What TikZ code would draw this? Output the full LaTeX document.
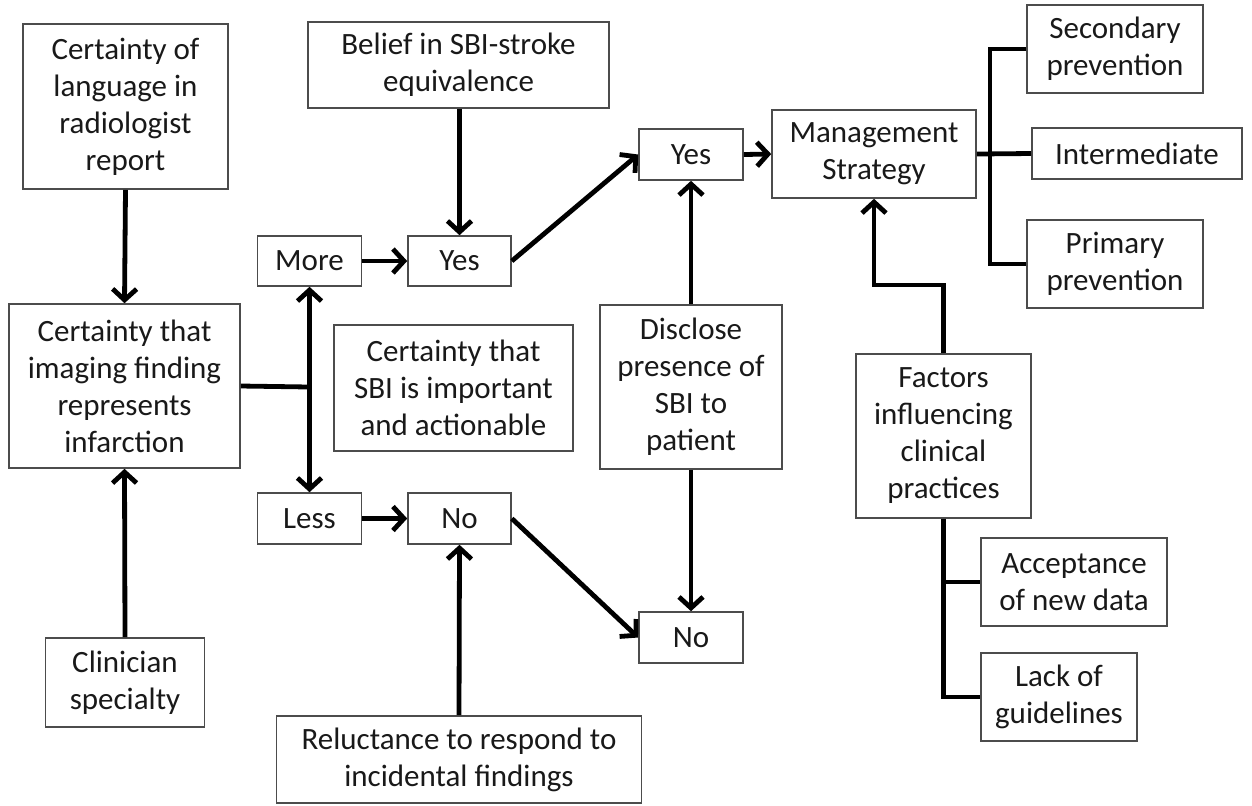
\documentclass[tikz,border=0pt]{standalone}
\usepackage{fontspec}
\setmainfont{Carlito}
\usetikzlibrary{arrows.meta}
\begin{document}
\begin{tikzpicture}[x=0.5pt,y=-0.5pt,
  bx/.style={draw=black!70, line width=0.8pt, align=center, inner sep=0pt,
    font={\fontsize{15.5}{18.5}\selectfont}, text=black!90},
  ln/.style={line width=2.4pt, line join=miter},
  arr/.style={ln, -{Straight Barb[length=5.5pt,width=12pt,line width=2.4pt]}},
  darr/.style={ln, {Straight Barb[length=5.5pt,width=12pt,line width=2.4pt]}-{Straight Barb[length=5.5pt,width=12pt,line width=2.4pt]}}]
\useasboundingbox (0,0) rectangle (1252,805);
\node[bx, minimum width=102.5pt, minimum height=82.5pt] (A) at (125.5,106.5) {Certainty of\\language in\\radiologist\\report};
\node[bx, minimum width=150.5pt, minimum height=43pt] (B) at (458.5,65) {Belief in SBI-stroke\\equivalence};
\node[bx, minimum width=52pt, minimum height=25pt] (More) at (309.5,261) {More};
\node[bx, minimum width=51.5pt, minimum height=25pt] (Yes1) at (459.5,261) {Yes};
\node[bx, minimum width=115.5pt, minimum height=82pt] (L) at (124.5,386) {Certainty that\\imaging finding\\represents\\infarction};
\node[bx, minimum width=119.5pt, minimum height=63pt] (C2) at (453.5,388) {Certainty that\\SBI is important\\and actionable};
\node[bx, minimum width=52pt, minimum height=25.5pt] (Less) at (309.5,518.5) {Less};
\node[bx, minimum width=51.5pt, minimum height=25.5pt] (No1) at (459.5,518.5) {No};
\node[bx, minimum width=52pt, minimum height=25.5pt] (No2) at (691,637.5) {No};
\node[bx, minimum width=79.5pt, minimum height=44.5pt] (Clin) at (125,682.5) {Clinician\\specialty};
\node[bx, minimum width=182.5pt, minimum height=43.5pt] (Rel) at (459,759.5) {Reluctance to respond to\\incidental findings};
\node[bx, minimum width=91pt, minimum height=82pt] (Disc) at (691,387) {Disclose\\presence of\\SBI to\\patient};
\node[bx, minimum width=52pt, minimum height=25.5pt] (Yes2) at (691,154.5) {Yes};
\node[bx, minimum width=102pt, minimum height=44pt] (Mgmt) at (874,154) {Management\\Strategy};
\node[bx, minimum width=88pt, minimum height=44pt] (Sec) at (1115,49) {Secondary\\prevention};
\node[bx, minimum width=105pt, minimum height=25.5pt] (Int) at (1137,153.5) {Intermediate};
\node[bx, minimum width=88pt, minimum height=44pt] (Prim) at (1115,264) {Primary\\prevention};
\node[bx, minimum width=87.5pt, minimum height=82pt] (Fact) at (943.5,436) {Factors\\influencing\\clinical\\practices};
\node[bx, minimum width=93pt, minimum height=44pt] (Acc) at (1074,582) {Acceptance\\of new data};
\node[bx, minimum width=78pt, minimum height=44pt] (Lack) at (1059,697) {Lack of\\guidelines};
% connectors
\draw[arr] (A.south) -- (L.north);
\draw[arr] (Clin.north) -- (L.south);
\coordinate (J) at (309.5,387);
\draw[ln] (L.east) -- (J);
\draw[darr] (More.south) -- (Less.north);
\draw[arr] (B.south -| Yes1.north) -- (Yes1.north);
\draw[arr] (More.east) -- (Yes1.west);
\draw[arr] (Less.east) -- (No1.west);
\draw[arr] (Yes1.east) -- (Yes2.west);
\draw[arr] (No1.east) -- (No2.west);
\draw[arr] (Rel.north) -- (No1.south);
\draw[arr] (Disc.north) -- (Yes2.south);
\draw[arr] (Disc.south) -- (No2.north);
\draw[arr] (Yes2.east) -- (Mgmt.west);
\coordinate (bus) at (990,154);
\draw[ln] (Mgmt.east) -- (Int.west);
\draw[ln] (Sec.west) -| (bus) |- (Prim.west);
\coordinate (fk) at (943.5,285);
\draw[arr] (Fact.north) -- (fk) -| (Mgmt.south);
\draw[ln] (Fact.south) |- (Acc.west);
\draw[ln] (Fact.south) |- (Lack.west);
\end{tikzpicture}
\end{document}
